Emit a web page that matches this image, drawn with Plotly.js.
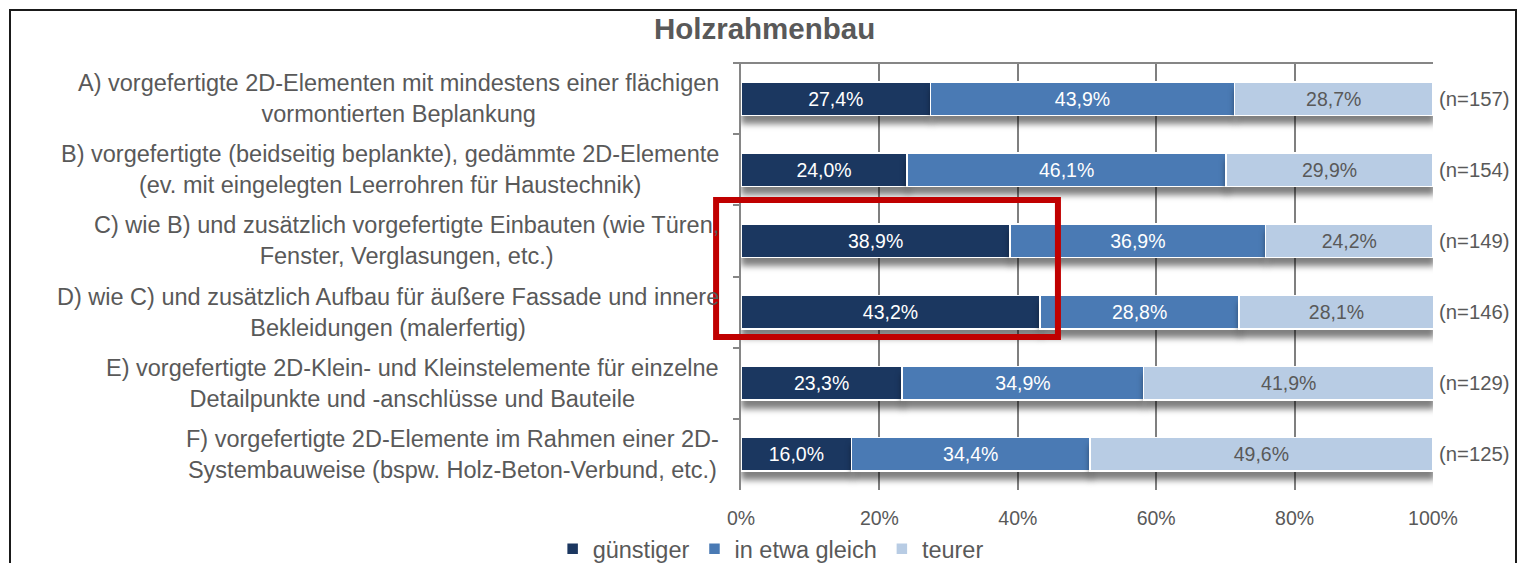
<!DOCTYPE html>
<html>
<head>
<meta charset="utf-8">
<script src="https://cdn.plot.ly/plotly-3.0.1.min.js"></script>
<style>
  html, body { margin: 0; padding: 0; background: #fff; overflow: hidden; }
  #wrap { position: relative; width: 1520px; height: 563px; }
  #chart { width: 1520px; height: 563px; }
  #frame { position: absolute; left: 9px; top: 9px; width: 1504px; height: 620px;
           border: 2px solid #1a1a1a; pointer-events: none; }
  .barlayer .point path { filter: drop-shadow(1px 8px 3px rgba(0,0,0,0.5)); }
</style>
</head>
<body>
<div id="wrap">
  <div id="chart"></div>
  <div id="frame"></div>
</div>
<script>
const chartTitle = 'Holzrahmenbau';
const categories = [
  'A) vorgefertigte 2D-Elementen mit mindestens einer flächigen<br>vormontierten Beplankung',
  'B) vorgefertigte (beidseitig beplankte), gedämmte 2D-Elemente<br>(ev. mit eingelegten Leerrohren für Haustechnik)',
  'C) wie B) und zusätzlich vorgefertigte Einbauten (wie Türen,<br>Fenster, Verglasungen, etc.)',
  'D) wie C) und zusätzlich Aufbau für äußere Fassade und innere<br>Bekleidungen (malerfertig)',
  'E) vorgefertigte 2D-Klein- und Kleinstelemente für einzelne<br>Detailpunkte und -anschlüsse und Bauteile',
  'F) vorgefertigte 2D-Elemente im Rahmen einer 2D-<br>Systembauweise (bspw. Holz-Beton-Verbund, etc.)'
];
const seriesNames = ['günstiger', 'in etwa gleich', 'teurer'];
const guenstiger = [27.4, 24.0, 38.9, 43.2, 23.3, 16.0];
const gleich     = [43.9, 46.1, 36.9, 28.8, 34.9, 34.4];
const teurer     = [28.7, 29.9, 24.2, 28.1, 41.9, 49.6];
const nValues    = [157, 154, 149, 146, 129, 125];
const xTicks     = [0, 20, 40, 60, 80, 100];
const xTickLabels = ['0%', '20%', '40%', '60%', '80%', '100%'];
const highlighted = [categories[2], categories[3]];

const colors = ['#1b3760', '#4a7ab4', '#b8cce4'];
const textColors = ['#ffffff', '#ffffff', '#595959'];
const FONT = 'Liberation Sans, Arial, sans-serif';
const GREY = '#595959';

const seriesValues = [guenstiger, gleich, teurer];
const traces = seriesValues.map((vals, i) => ({
  type: 'bar',
  orientation: 'h',
  name: seriesNames[i],
  y: categories,
  x: vals,
  marker: { color: colors[i], line: { color: '#ffffff', width: 1.5 } },
  texttemplate: '%{x:.1f}%',
  textposition: 'inside',
  insidetextanchor: 'middle',
  textangle: 0,
  constraintext: 'none',
  textfont: { family: FONT, size: 19.5, color: textColors[i] },
  hoverinfo: 'skip'
}));

const annotations = [];
categories.forEach((c, i) => {
  annotations.push({
    xref: 'paper', yref: 'y', x: 0, y: c, xanchor: 'right', yanchor: 'middle',
    xshift: -20, align: 'center', showarrow: false, text: c,
    font: { family: FONT, size: 23.5, color: GREY }
  });
  annotations.push({
    xref: 'paper', yref: 'y', x: 1, y: c, xanchor: 'left', yanchor: 'middle',
    xshift: 4, showarrow: false, text: '(n=' + nValues[i] + ')',
    font: { family: FONT, size: 20.3, color: GREY }
  });
});

const layout = {
  width: 1520, height: 563,
  margin: { l: 741, r: 87, t: 63, b: 73 },
  paper_bgcolor: '#ffffff', plot_bgcolor: '#ffffff',
  separators: ',.',
  barmode: 'stack',
  bargap: 0.53,
  showlegend: true,
  title: {
    text: chartTitle,
    xref: 'container', x: 0.503, xanchor: 'center',
    yref: 'container', y: 1 - 29 / 563, yanchor: 'middle',
    font: { family: FONT, size: 29.5, color: GREY, weight: 'bold' }
  },
  legend: {
    orientation: 'h', xref: 'container', yref: 'container', traceorder: 'normal',
    x: 0.507, xanchor: 'center', y: 1 - 549 / 563, yanchor: 'middle',
    font: { family: FONT, size: 23.5, color: GREY },
    itemwidth: 30, tracegroupgap: 0
  },
  xaxis: {
    range: [0, 100], tickmode: 'array', tickvals: xTicks, ticktext: xTickLabels,
    showgrid: true, gridcolor: '#7f7f7f', gridwidth: 2,
    zeroline: false, showline: false, ticks: '',
    tickfont: { family: FONT, size: 19.5, color: GREY },
    ticklabelstandoff: 14, fixedrange: true
  },
  yaxis: {
    type: 'category', categoryorder: 'array', categoryarray: categories,
    autorange: 'reversed', showticklabels: false, showgrid: false,
    showline: true, linecolor: '#868686', linewidth: 2,
    ticks: 'outside', ticklen: 6, tickcolor: '#868686', tickwidth: 2,
    tickson: 'boundaries', zeroline: false, fixedrange: true
  },
  shapes: [
    { type: 'line', xref: 'paper', yref: 'paper', x0: -0.008, x1: 1, y0: 1, y1: 1,
      line: { color: '#868686', width: 2 }, layer: 'above' },
    { type: 'rect', xref: 'paper', yref: 'y',
      x0: -0.036, x1: 0.458,
      y0: categories.indexOf(highlighted[0]) - 0.574,
      y1: categories.indexOf(highlighted[1]) + 0.35,
      line: { color: '#c00000', width: 6 }, fillcolor: 'rgba(0,0,0,0)', layer: 'above' }
  ],
  annotations: annotations
};

Plotly.newPlot('chart', traces, layout, { displayModeBar: false, staticPlot: true });
</script>
</body>
</html>
